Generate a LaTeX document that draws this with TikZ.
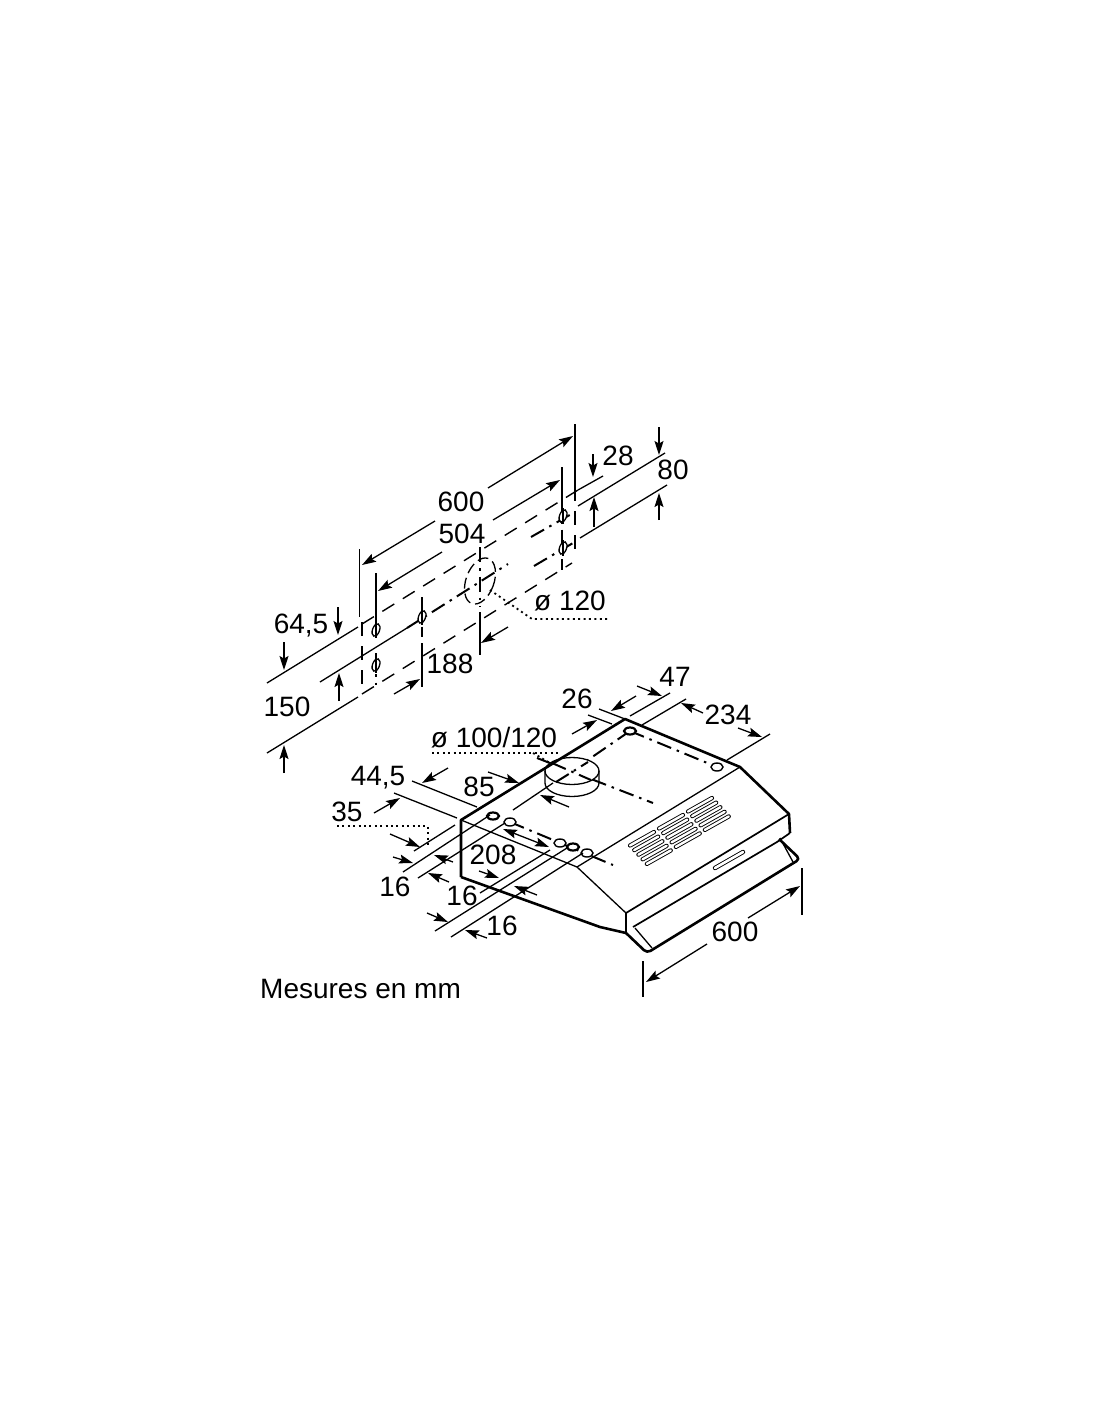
\documentclass[tikz,border=0pt]{standalone}
\usepackage{fontspec}
\setmainfont{Liberation Sans}
\usetikzlibrary{arrows.meta,calc}

\begin{document}
\begin{tikzpicture}[
	x = 1pt, y = -1pt, % reference pixels
	> = {Stealth[length=14pt,width=9pt,inset=2.5pt]}, % arrow head style
	thinline/.style={line width=1.3pt},
	midline/.style={line width=1.7pt},
	outline/.style={line width=2.6pt, line join=round},
	dimline/.style={thinline, ->},
	dashline/.style={line width=1.4pt, dash pattern=on 14pt off 10pt},
	axisline/.style={line width=2pt, dash pattern=on 15pt off 6pt on 2.5pt off 6pt},
	leader/.style={line width=1.8pt, dash pattern=on 2pt off 3.4pt},
	slat/.style={line width=.9pt, double, double distance=2.4pt, line cap=round},
	lbl/.style={font=\fontsize{28}{28}\selectfont, inner sep=0pt},
	]
	\useasboundingbox (0,0) rectangle (1100,1422);

	% Wall template: extension lines
	\draw[thinline] (359.5,549) -- (359.5,617);
	\draw[thinline] (376,573) -- (376,627);
	\draw[thinline] (575,424) -- (575,487);
	\draw[thinline] (562,467) -- (562,500);
	\draw[thinline] (480,612) -- (480,655);
	\draw[thinline] (422,643) -- (422,687);
	\draw[thinline] (267,683) -- (358,627);
	\draw[thinline] (320,682) -- (407,628);
	\draw[thinline] (267,753) -- (358,697);
	\draw[thinline] (578,490) -- (603,476);
	\draw[thinline] (578,506) -- (665,453);
	\draw[thinline] (580,538) -- (667,485);

	% Wall template: dashed frame
	\draw[dashline] (362,622) -- (362,692);
	\draw[dashline] (575,487) -- (575,557);
	\draw[dashline] (362,624) -- (578,490);
	\draw[dashline] (362,694) -- (572,563);

	% Wall template: hole axes
	\draw[axisline] (407,628) -- (508,564);
	\draw[axisline] (531,537) -- (575,512);
	\draw[axisline] (534,566) -- (573,543);
	\draw[axisline] (480,547) -- (480,607);
	\draw[axisline] (422,597) -- (422,637);
	\draw[axisline] (376,653) -- (376,685);
	\draw[axisline] (562,500) -- (562,570);

	% Wall template: holes
	\foreach \hx/\hy in {376/630,376/665,422/617,563/516,563/548} {
		\draw[thinline,fill=white] (\hx,\hy) ellipse [x radius=3.5,y radius=6.5,rotate=-20];
		\draw[thinline] (\hx,\hy-8) -- (\hx,\hy+8);
	}
	\draw[thinline,dash pattern=on 11pt off 5pt,rotate around={-20:(480,581)}] (480,581) ellipse [x radius=14,y radius=24];
	\draw[leader] (490,590) -- (532,619) -- (607,619);

	% Wall template: arrows
	\draw[dimline] (435,521) -- (362,565);
	\draw[dimline] (488,488) -- (573,436);
	\draw[dimline] (442,552) -- (378,591);
	\draw[dimline] (493,520) -- (560,480);
	\draw[dimline] (593,454) -- (593,477);
	\draw[dimline] (594,527) -- (594,497);
	\draw[dimline] (659,427) -- (659,455);
	\draw[dimline] (659,520) -- (659,493);
	\draw[dimline] (338,607) -- (338,635);
	\draw[dimline] (284,642) -- (284,670);
	\draw[dimline] (339,701) -- (339,673);
	\draw[dimline] (284,773) -- (284,745);
	\draw[dimline] (394,694) -- (420,679);
	\draw[dimline] (508,627) -- (481,643);

	% Hood: corners
	\coordinate (HL) at (461,820);
	\coordinate (HB) at (461,877);
	\coordinate (HT) at (625,719);
	\coordinate (HR) at (740,767);
	\coordinate (HS) at (789,814);
	\coordinate (HD) at (790,833);
	\coordinate (HF) at (626,913);
	\coordinate (HG) at (626,933);
	\coordinate (HM) at (577,867);

	% Hood: inner edges
	\draw[thinline] (HL) -- (HM) -- (HF);
	\draw[midline] (HF) -- (HG);
	\draw[thinline] (HM) -- (HR);
	\draw[midline] (HF) -- (HS);
	\draw[midline] (633,927) -- (777,842) -- (HD);

	% Hood: grilles and slot
	\draw[slat,double distance=2.6pt] (715,868) -- (743,852);
	\foreach \gx/\gy in {0/0,29/-17,58/-34}
		\foreach \s in {0,...,4}
			\draw[slat,shift={(\gx+4.2*\s,\gy+4.6*\s)}] (630,845.5) -- (654,832);

	% Hood: axes and holes
	\draw[axisline] (630,731) -- (717,767);
	\draw[axisline] (630,731) -- (566,775);
	\draw[axisline] (537,758) -- (653,803);
	\draw[axisline] (510,822) -- (613,865);
	\draw[thinline,fill=white] (572,771) ellipse [x radius=27,y radius=13.5];
	\draw[thinline] (545,771) -- (545,783) arc [start angle=180,end angle=360,x radius=27,y radius=-13.5] -- (599,771);
	\draw[axisline] (552,763) -- (591,780);
	\draw[axisline] (556,782) -- (588,762);
	\foreach \hx/\hy in {493/816,573/847,630/731}
		\draw[line width=2.2pt,fill=white] (\hx,\hy) ellipse [x radius=6,y radius=3.5];
	\foreach \hx/\hy in {510/822,560/843,587/853,717/767}
		\draw[line width=1.4pt,fill=white] (\hx,\hy) ellipse [x radius=6,y radius=4];
	\draw[leader] (432,753) -- (558,753);
	\draw[leader] (533,753) -- (550,763);
	\draw[leader] (337,826) -- (428,826) -- (428,848);

	% Hood: outline
	\draw[outline] (HB) -- (HL) -- (HT) -- (HR) -- (HS) -- (HD);
	\draw[outline] (HB) -- (600,927) -- (HG);

	% Hood: visor
	\draw[outline,rounded corners=4pt] (HG) -- (647,953) -- (800,859) -- (779,839);
	\draw[thinline] (635,928) -- (652,948);
	\draw[thinline] (780,838) -- (793,862);

	% Hood: extension lines
	\draw[thinline] (412,781) -- (477,807);
	\draw[thinline] (394,793) -- (457,818);
	\draw[thinline] (513,810) -- (553,783);
	\draw[thinline] (414,851) -- (455,825);
	\draw[thinline] (403,872) -- (490,815);
	\draw[thinline] (418,878) -- (505,823);
	\draw[thinline] (480,893) -- (550,850);
	\draw[thinline] (435,931) -- (567,848);
	\draw[thinline] (451,937) -- (583,853);
	\draw[thinline] (588,715) -- (612,724);
	\draw[thinline] (599,709) -- (625,719);
	\draw[thinline] (630,716) -- (670,693);
	\draw[thinline] (642,725) -- (686,699);
	\draw[thinline] (727,760) -- (770,734);
	\draw[thinline] (802,868) -- (802,915);
	\draw[thinline] (643,961) -- (643,997);

	% Hood: arrows
	\draw[dimline] (448,768) -- (422,783);
	\draw[dimline] (374,813) -- (400,798);
	\draw[dimline] (488,772) -- (519,783);
	\draw[dimline] (569,807) -- (540,795);
	\draw[dimline] (390,834) -- (420,847);
	\draw[dimline] (393,857) -- (413,863);
	\draw[dimline] (453,862) -- (434,855);
	\draw[dimline] (449,882) -- (428,873);
	\draw[thinline,<->] (503,829) -- (549,847);
	\draw[dimline] (479,871) -- (499,878);
	\draw[dimline] (537,895) -- (514,886);
	\draw[dimline] (427,913) -- (448,922);
	\draw[dimline] (487,938) -- (465,930);
	\draw[dimline] (572,734) -- (597,720);
	\draw[dimline] (636,696) -- (611,711);
	\draw[dimline] (637,686) -- (662,696);
	\draw[dimline] (703,713) -- (681,703);
	\draw[dimline] (738,728) -- (762,737);
	\draw[dimline] (748,918) -- (800,886);
	\draw[dimline] (707,944) -- (646,982);

	% Labels
	\node[lbl] (wallA) at (461,502) {600};
	\node[lbl] (wallB) at (462,534) {504};
	\node[lbl] (wallC) at (618,456) {28};
	\node[lbl] (wallD) at (673,470) {80};
	\node[lbl] (wallE) at (301,626) {64,5};
	\node[lbl] (wallF) at (287,707) {150};
	\node[lbl] (wallG) at (450,664) {188};
	\node[lbl] (wallH) at (570,601) {ø 120};
	\node[lbl] (hoodA) at (577,699) {26};
	\node[lbl] (hoodB) at (675,677) {47};
	\node[lbl] (hoodC) at (728,715) {234};
	\node[lbl] (hoodD) at (494,738) {ø 100/120};
	\node[lbl] (hoodE) at (378,778) {44,5};
	\node[lbl] (hoodF) at (479,787) {85};
	\node[lbl] (hoodG) at (347,812) {35};
	\node[lbl] (hoodH) at (493,855) {208};
	\node[lbl] (hoodI) at (395,887) {16};
	\node[lbl] (hoodJ) at (462,896) {16};
	\node[lbl] (hoodK) at (502,926) {16};
	\node[lbl] (hoodL) at (735,932) {600};
	\node[lbl,anchor=west] (units) at (260,989) {Mesures en mm};

\end{tikzpicture}
\end{document}
